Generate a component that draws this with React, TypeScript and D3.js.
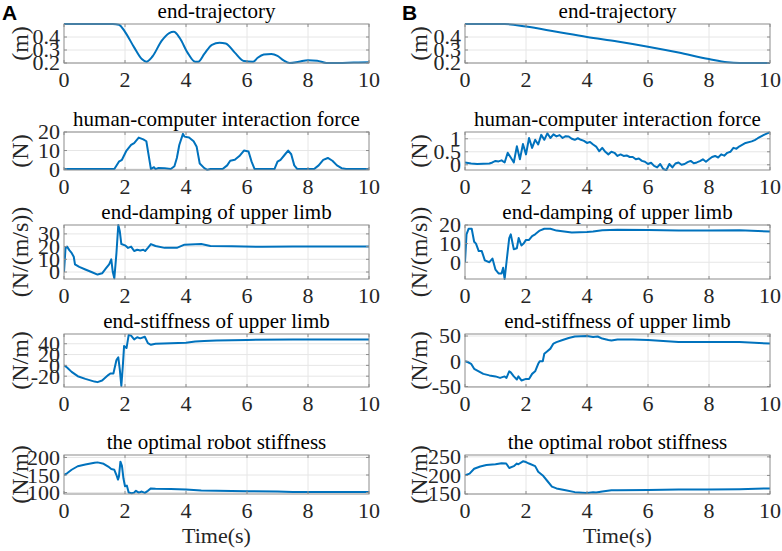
import * as d3 from "d3"

// --- data: [time (s), value] ---
const trajA: [number, number][] = [
  [0, 0.5], [1.6, 0.5], [1.8, 0.495], [2.0, 0.44], [2.3, 0.32], [2.55, 0.23], [2.7, 0.21], [2.9, 0.25],
  [3.2, 0.37], [3.45, 0.43], [3.6, 0.44], [3.8, 0.39], [4.05, 0.28], [4.3, 0.21], [4.4, 0.21], [4.6, 0.27],
  [4.85, 0.34], [5.1, 0.355], [5.3, 0.35], [5.6, 0.28], [5.9, 0.215], [6.2, 0.21], [6.35, 0.24], [6.55, 0.265],
  [6.8, 0.27], [7.0, 0.255], [7.2, 0.22], [7.4, 0.2], [7.7, 0.21], [8.0, 0.222], [8.3, 0.218], [8.6, 0.2],
  [9.0, 0.2], [9.5, 0.203], [10, 0.205],
]
const forceA: [number, number][] = [
  [0, 0], [1.65, 0], [1.8, 4], [1.9, 5], [2.05, 10], [2.2, 13], [2.3, 14], [2.45, 17], [2.6, 16], [2.7, 15],
  [2.8, 5], [2.85, 0], [2.95, 1], [3.0, 0], [3.1, 0.6], [3.3, 0.5], [3.5, 0], [3.62, 1.5], [3.7, 6],
  [3.78, 13], [3.9, 19], [3.95, 17.5], [4.1, 17], [4.25, 15], [4.35, 12], [4.45, 3], [4.6, 0.5], [4.7, -0.4],
  [4.8, 0], [5.2, 0], [5.35, 2], [5.45, 4.5], [5.6, 5], [5.75, 7], [5.9, 10], [6.05, 9.5], [6.15, 4],
  [6.25, 0], [6.9, 0], [7.0, 4], [7.1, 5], [7.25, 8], [7.35, 10], [7.45, 8], [7.55, 2], [7.65, 0],
  [8.2, 0], [8.35, 2], [8.5, 5], [8.65, 6], [8.8, 4.5], [8.95, 2], [9.1, 0.5], [9.25, 0], [10, 0],
]
const dampA: [number, number][] = [
  [0, 0], [0.05, 19], [0.1, 20], [0.18, 17], [0.25, 15], [0.32, 12], [0.36, 6], [0.5, 4], [0.7, 2],
  [0.9, 0], [1.1, -2], [1.25, -1], [1.38, 3], [1.48, 6], [1.55, 10], [1.6, 0], [1.65, -5], [1.72, 15],
  [1.78, 37], [1.83, 32], [1.88, 22], [2.0, 21], [2.1, 19], [2.2, 20], [2.3, 16.5], [2.4, 17.5], [2.5, 17],
  [2.6, 17.5], [2.66, 16.5], [2.75, 19], [2.85, 22], [3.0, 20.5], [3.3, 19], [3.7, 19], [3.95, 21.5],
  [4.5, 22], [4.8, 20.5], [5.5, 20.2], [6.5, 19.8], [7.5, 20], [8.5, 20], [10, 20],
]
const stiffA: [number, number][] = [
  [0, 0], [0.1, -4], [0.25, -12], [0.45, -20], [0.7, -25], [1.0, -30], [1.1, -31], [1.25, -28], [1.45, -18],
  [1.52, -15], [1.62, -15], [1.72, 10], [1.78, 15], [1.83, -8], [1.88, -38], [1.93, 0], [1.97, 36], [2.05, 32],
  [2.12, 56], [2.2, 55], [2.3, 48], [2.4, 52], [2.5, 50], [2.65, 53], [2.75, 41], [2.85, 38], [3.0, 40],
  [3.5, 41], [4.0, 42], [4.3, 44], [4.6, 45], [5.0, 46], [6.0, 47], [7.5, 48], [10, 48],
]
const robotA: [number, number][] = [
  [0, 150], [0.1, 155], [0.25, 165], [0.45, 175], [0.7, 180], [1.0, 185], [1.1, 186], [1.3, 182], [1.45, 174],
  [1.55, 167], [1.65, 165], [1.72, 150], [1.77, 137], [1.8, 145], [1.85, 188], [1.9, 176], [1.95, 140],
  [2.0, 118], [2.06, 120], [2.12, 100], [2.22, 98], [2.3, 100], [2.36, 105], [2.45, 100], [2.55, 103],
  [2.65, 99], [2.75, 105], [2.85, 112], [3.0, 111], [3.5, 110], [4.0, 109], [4.5, 106], [5.0, 105],
  [6.0, 104], [7.0, 103], [7.5, 102], [10, 102],
]

const trajB: [number, number][] = [
  [0, 0.5], [1.3, 0.5], [2.0, 0.48], [3.0, 0.44], [4.0, 0.4], [5.0, 0.365], [6.0, 0.325], [7.0, 0.28],
  [8.0, 0.23], [8.6, 0.205], [9.0, 0.2], [10, 0.2],
]
const forceB: [number, number][] = [
  [0, 0.09], [0.2, 0.05], [0.4, 0.03], [0.6, 0.04], [0.8, 0.05], [0.9, 0.09], [1.0, 0.15], [1.1, 0.13],
  [1.2, 0.17], [1.3, 0.09], [1.4, 0.46], [1.5, 0.28], [1.6, 0.09], [1.7, 0.71], [1.8, 0.21], [1.9, 0.8],
  [2.0, 0.4], [2.1, 1.03], [2.2, 0.65], [2.3, 0.96], [2.4, 0.78], [2.5, 1.15], [2.6, 0.96], [2.7, 1.21],
  [2.8, 1.03], [2.9, 1.17], [3.0, 1.09], [3.1, 1.14], [3.2, 1.03], [3.3, 1.1], [3.4, 1.09], [3.5, 1.0],
  [3.6, 0.96], [3.7, 1.02], [3.8, 0.96], [3.9, 0.92], [4.0, 0.84], [4.1, 0.88], [4.2, 0.78], [4.3, 0.7],
  [4.4, 0.52], [4.5, 0.65], [4.6, 0.5], [4.7, 0.4], [4.8, 0.5], [4.9, 0.46], [5.0, 0.34], [5.1, 0.4],
  [5.2, 0.34], [5.3, 0.36], [5.4, 0.3], [5.5, 0.3], [5.6, 0.21], [5.7, 0.24], [5.8, 0.15], [5.9, 0.12],
  [6.0, 0.03], [6.1, 0.08], [6.2, -0.04], [6.3, -0.1], [6.4, 0.03], [6.5, -0.16], [6.6, -0.21], [6.7, 0.03],
  [6.8, -0.1], [6.9, 0.05], [7.0, 0.09], [7.1, 0.0], [7.2, 0.03], [7.3, 0.1], [7.4, 0.15], [7.5, 0.06],
  [7.6, 0.09], [7.7, 0.14], [7.8, 0.21], [7.9, 0.12], [8.0, 0.21], [8.1, 0.3], [8.2, 0.34], [8.3, 0.28],
  [8.4, 0.4], [8.5, 0.35], [8.6, 0.46], [8.7, 0.5], [8.8, 0.65], [8.9, 0.62], [9.0, 0.71], [9.2, 0.84],
  [9.4, 0.9], [9.5, 0.95], [9.6, 1.02], [9.8, 1.15], [10, 1.25],
]
const dampB: [number, number][] = [
  [0, 0], [0.05, 15], [0.12, 18], [0.22, 18], [0.3, 11], [0.36, 10], [0.45, 6], [0.55, 6], [0.65, 1],
  [0.8, 0], [0.9, 2], [1.0, -4], [1.1, -6], [1.2, -6], [1.25, -3], [1.3, -9], [1.36, 0], [1.45, 13],
  [1.5, 15], [1.6, 7], [1.7, 7.5], [1.76, 13], [1.85, 9], [1.92, 10], [2.0, 12], [2.1, 12], [2.2, 14],
  [2.3, 15], [2.45, 17], [2.6, 18], [2.8, 18], [3.0, 17], [3.5, 16], [4.0, 16.3], [4.2, 16.5], [4.5, 17.2],
  [5.0, 17.5], [6.0, 17.3], [7.0, 17], [8.0, 17], [9.0, 17.2], [10, 16.5],
]
const stiffB: [number, number][] = [
  [0, 0], [0.1, -2], [0.2, -5], [0.3, -15], [0.45, -20], [0.6, -25], [0.8, -28], [1.0, -30], [1.15, -33],
  [1.3, -30], [1.36, -33], [1.45, -20], [1.5, -22], [1.6, -30], [1.7, -36], [1.75, -30], [1.85, -38],
  [2.0, -35], [2.1, -35], [2.2, -25], [2.3, -20], [2.4, -5], [2.45, 0], [2.55, 0], [2.6, 15], [2.7, 20],
  [2.8, 25], [2.9, 35], [3.0, 38], [3.2, 42], [3.4, 46], [3.6, 49], [4.0, 50], [4.2, 48], [4.35, 49],
  [4.5, 45], [4.7, 42], [4.8, 41], [5.0, 43], [5.5, 43], [6.0, 42], [6.5, 40], [7.0, 38], [8.0, 38],
  [9.0, 38], [10, 35],
]
const robotB: [number, number][] = [
  [0, 200], [0.15, 205], [0.3, 218], [0.5, 224], [0.7, 228], [1.0, 230], [1.2, 233], [1.35, 232],
  [1.45, 220], [1.6, 225], [1.7, 232], [1.75, 230], [1.9, 238], [2.0, 236], [2.1, 232], [2.3, 225],
  [2.4, 210], [2.55, 200], [2.7, 185], [2.85, 170], [3.0, 165], [3.3, 160], [3.6, 155], [4.0, 153],
  [4.2, 155], [4.3, 154], [4.5, 157], [4.8, 160], [5.0, 160], [6.0, 161], [7.0, 162], [8.0, 162],
  [9.0, 163], [10, 165],
]

const titles = [
  "end-trajectory",
  "human-computer interaction force",
  "end-damping of upper limb",
  "end-stiffness of upper limb",
  "the optimal robot stiffness",
]
const yLabels = ["(m)", "(N)", "(N/(m/s))", "(N/m)", "(N/m)"]
const xTicks = [0, 2, 4, 6, 8, 10]

const seriesA = [trajA, forceA, dampA, stiffA, robotA]
const seriesB = [trajB, forceB, dampB, stiffB, robotB]
const domainsA: [number, number][] = [[0.2, 0.5], [-0.5, 20], [-5.5, 37], [-40, 58], [96, 207]]
const domainsB: [number, number][] = [[0.2, 0.5], [-0.2, 1.26], [-9, 20], [-51, 54], [150, 255]]
const yTicksA = [[0.2, 0.3, 0.4], [0, 10, 20], [0, 10, 20, 30], [-20, 0, 20, 40], [100, 150, 200]]
const yTicksB = [[0.2, 0.3, 0.4], [0, 0.5, 1], [0, 10, 20], [-50, 0, 50], [150, 200, 250]]

// layout
const W = 782
const H = 551
const cols = [
  { x0: 64, x1: 369, labelX: 20, letter: "A", letterX: 2 },
  { x0: 465, x1: 770, labelX: 419, letter: "B", letterX: 402 },
]
const rows = [
  [24, 63],
  [132, 170],
  [225, 279],
  [334, 387],
  [455, 494],
]

const BLUE = "#0072BD"
const SERIF = "Liberation Serif, Tinos, DejaVu Serif, Times New Roman, serif"

function Panel({ ci, ri }: { ci: number; ri: number }) {
  const col = cols[ci]
  const [top, bottom] = rows[ri]
  const data = ci === 0 ? seriesA[ri] : seriesB[ri]
  const dom = ci === 0 ? domainsA[ri] : domainsB[ri]
  const yt = ci === 0 ? yTicksA[ri] : yTicksB[ri]

  const x = d3.scaleLinear().domain([0, 10]).range([col.x0, col.x1])
  const y = d3.scaleLinear().domain(dom).range([bottom, top])
  const smooth = ri === 0
  const line = d3
    .line<[number, number]>()
    .x((d) => x(d[0]))
    .y((d) => y(d[1]))
    .curve(smooth ? d3.curveMonotoneX : d3.curveLinear)

  const clipId = `clip-${ci}-${ri}`
  const midY = (top + bottom) / 2
  const midX = (col.x0 + col.x1) / 2
  const txt = { fontFamily: SERIF }

  return (
    <g>
      <defs>
        <clipPath id={clipId}>
          <rect x={col.x0} y={top - 1} width={col.x1 - col.x0} height={bottom - top + 2} />
        </clipPath>
      </defs>
      <rect x={col.x0} y={top} width={col.x1 - col.x0} height={bottom - top} fill="#fff" />
      {/* grid */}
      {xTicks.slice(1, -1).map((t) => (
        <line key={"gx" + t} x1={x(t)} x2={x(t)} y1={top} y2={bottom} stroke="#e6e6e6" strokeWidth={1} />
      ))}
      {yt.map((t) => (
        <line key={"gy" + t} x1={col.x0} x2={col.x1} y1={y(t)} y2={y(t)} stroke="#e6e6e6" strokeWidth={1} />
      ))}
      <path d={line(data) || ""} fill="none" stroke={BLUE} strokeWidth={2} clipPath={`url(#${clipId})`} strokeLinejoin="round" />
      {/* box */}
      <rect x={col.x0} y={top} width={col.x1 - col.x0} height={bottom - top} fill="none" stroke="#8c8c8c" strokeWidth={1} />
      {/* tick marks (inside) */}
      {xTicks.map((t) => (
        <g key={"tx" + t}>
          <line x1={x(t)} x2={x(t)} y1={bottom} y2={bottom - 3} stroke="#8c8c8c" />
          <line x1={x(t)} x2={x(t)} y1={top} y2={top + 3} stroke="#8c8c8c" />
          <text x={x(t)} y={bottom + 24} textAnchor="middle" style={txt} fontSize={22} fill="#262626">
            {t}
          </text>
        </g>
      ))}
      {yt.map((t) => (
        <g key={"ty" + t}>
          <line x1={col.x0} x2={col.x0 + 3} y1={y(t)} y2={y(t)} stroke="#8c8c8c" />
          <line x1={col.x1} x2={col.x1 - 3} y1={y(t)} y2={y(t)} stroke="#8c8c8c" />
          <text x={col.x0 - 4} y={y(t)} dy="0.34em" textAnchor="end" style={txt} fontSize={22} fill="#262626">
            {t}
          </text>
        </g>
      ))}
      <text x={midX} y={top - 6} textAnchor="middle" style={txt} fontSize={21} fill="#000">
        {titles[ri]}
      </text>
      <text
        transform={`translate(${col.labelX},${midY}) rotate(-90)`}
        dy="0.34em"
        textAnchor="middle"
        style={txt}
        fontSize={24}
        fill="#262626"
      >
        {yLabels[ri]}
      </text>
      {ri === rows.length - 1 && (
        <text x={midX} y={543} textAnchor="middle" style={txt} fontSize={22} fill="#262626">
          Time(s)
        </text>
      )}
    </g>
  )
}

export default function App() {
  return (
    <svg width={W} height={H} viewBox={`0 0 ${W} ${H}`} style={{ position: "absolute", left: 0, top: 0, background: "#fff" }}>
      <rect width={W} height={H} fill="#fff" />
      {cols.map((c, ci) => (
        <g key={c.letter}>
          <text x={c.letterX} y={20} style={{ fontFamily: "Liberation Sans, Arial, sans-serif" }} fontWeight="bold" fontSize={21}>
            {c.letter}
          </text>
          {rows.map((_, ri) => (
            <Panel key={ri} ci={ci} ri={ri} />
          ))}
        </g>
      ))}
    </svg>
  )
}
